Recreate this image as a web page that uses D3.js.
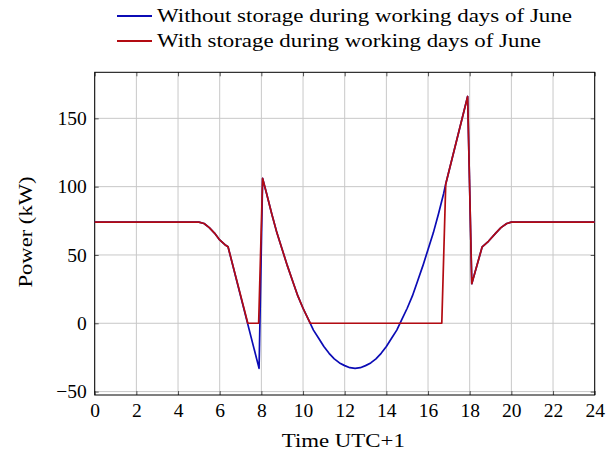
<!DOCTYPE html>
<html>
<head>
<meta charset="utf-8">
<script src="https://cdn.jsdelivr.net/npm/d3@7"></script>
<style>
  body { margin: 0; background: #fff; }
  svg { display: block; }
  text { font-family: "Liberation Serif", "DejaVu Serif", serif; fill: #000; }
</style>
</head>
<body>
<script>
// Data (hour of day, kW)
const hoursWithout = [0, 5, 5.25, 5.5, 5.75, 6, 6.25, 6.4, 7.89, 8.06, 8.25, 8.5, 8.75, 9, 9.25, 9.5, 9.75, 10,
  10.25, 10.5, 10.75, 11, 11.25, 11.5, 11.75, 12, 12.25, 12.5, 12.75, 13, 13.25, 13.5, 13.75, 14, 14.25,
  14.5, 14.75, 15, 15.25, 15.5, 15.75, 16, 16.25, 16.5, 16.75, 16.85, 17.9, 18.1, 18.6, 18.9, 19.25, 19.5,
  19.78, 20, 24];
const powerWithout = [74, 74, 73, 70, 66, 61, 57.5, 56, -33, 106, 95, 80, 66, 54, 42, 31, 20, 11,
  3, -5, -11, -17, -22, -26, -29, -31, -32.5, -33, -32.5, -31, -29, -26, -22, -17, -11,
  -5, 3, 11, 20, 31, 42, 54, 66, 80, 95, 102, 166, 29, 56, 60, 66, 70,
  73, 74, 74];

const hoursWith = [0, 5, 5.25, 5.5, 5.75, 6, 6.25, 6.4, 7.35, 7.87, 8.06, 8.25, 8.5, 8.75, 9, 9.25, 9.5, 9.75, 10,
  10.25, 10.35, 16.66, 16.85, 17.9, 18.1, 18.6, 18.9, 19.25, 19.5, 19.78, 20, 24];
const powerWith = [74, 74, 73, 70, 66, 61, 57.5, 56, 0, 0, 106, 95, 80, 66, 54, 42, 31, 20, 11,
  3, 0, 0, 102, 166, 29, 56, 60, 66, 70, 73, 74, 74];

const xTicks = [0, 2, 4, 6, 8, 10, 12, 14, 16, 18, 20, 22, 24];
const yTicks = [-50, 0, 50, 100, 150];

const seriesNames = ["Without storage during working days of June", "With storage during working days of June"];
const seriesColors = ["#0b0bb5", "#b30b12"];
const legendWidths = [415, 384];

const W = 616, H = 452;
const margin = {top: 72.3, right: 21.3, bottom: 57, left: 94.7};
const width = W - margin.left - margin.right,
      height = H - margin.top - margin.bottom;

const svg = d3.select("body").append("svg")
  .attr("width", W)
  .attr("height", H);

const g = svg.append("g")
  .attr("transform", "translate(" + margin.left + "," + margin.top + ")");

const x = d3.scaleLinear().domain([0, 24]).range([0, width]);
const y = d3.scaleLinear().domain([-52.5, 183.7]).range([height, 0]);

// grid
g.append("g").selectAll("line.vg")
  .data(xTicks).enter().append("line")
  .attr("x1", d => x(d)).attr("x2", d => x(d))
  .attr("y1", 0).attr("y2", height)
  .attr("stroke", "#c8c8c8").attr("stroke-width", 1);
g.append("g").selectAll("line.hg")
  .data(yTicks).enter().append("line")
  .attr("x1", 0).attr("x2", width)
  .attr("y1", d => y(d)).attr("y2", d => y(d))
  .attr("stroke", "#c8c8c8").attr("stroke-width", 1);

// axes (ticks pointing inward, on all four sides)
const tickFmt = d => d < 0 ? "\u2212" + Math.abs(d) : d;
g.append("g")
  .attr("transform", "translate(0," + height + ")")
  .call(d3.axisBottom(x).tickValues(xTicks).tickSize(-4).tickPadding(8).tickFormat(tickFmt));
g.append("g")
  .call(d3.axisLeft(y).tickValues(yTicks).tickSize(-4).tickPadding(8).tickFormat(tickFmt));
g.append("g")
  .call(d3.axisTop(x).tickValues(xTicks).tickSize(-4).tickFormat(""));
g.append("g")
  .attr("transform", "translate(" + width + ",0)")
  .call(d3.axisRight(y).tickValues(yTicks).tickSize(-4).tickFormat(""));

g.selectAll(".domain").remove();
g.selectAll(".tick line").attr("stroke", "#555");
g.selectAll(".tick text").style("font-size", "19.5px")
  .style("font-family", "'Liberation Serif', serif");

g.append("rect")
  .attr("width", width).attr("height", height)
  .attr("fill", "none").attr("stroke", "#000").attr("stroke-width", 1);

// lines
const line = d3.line().x(d => x(d[0])).y(d => y(d[1]));
const seriesData = [
  d3.zip(hoursWithout, powerWithout),
  d3.zip(hoursWith, powerWith)
];
g.selectAll("path.series")
  .data(seriesData).enter().append("path")
  .attr("class", "series")
  .attr("d", line)
  .attr("fill", "none")
  .attr("stroke", (d, i) => seriesColors[i])
  .attr("stroke-width", 1.7)
  .attr("stroke-linejoin", "round");

// axis labels
svg.append("text")
  .attr("x", 343.3).attr("y", 446.5)
  .attr("text-anchor", "middle")
  .attr("textLength", 123).attr("lengthAdjust", "spacingAndGlyphs")
  .style("font-size", "19.5px")
  .text("Time UTC+1");
svg.append("text")
  .attr("transform", "translate(32,232) rotate(-90)")
  .attr("text-anchor", "middle")
  .attr("textLength", 111).attr("lengthAdjust", "spacingAndGlyphs")
  .style("font-size", "19.5px")
  .text("Power (kW)");

// legend
const legend = svg.append("g");
seriesNames.forEach((name, i) => {
  const ly = 16 + i * 25;
  legend.append("line")
    .attr("x1", 117).attr("x2", 152)
    .attr("y1", ly).attr("y2", ly)
    .attr("stroke", seriesColors[i]).attr("stroke-width", 1.8);
  legend.append("text")
    .attr("x", 157).attr("y", ly + 6)
    .attr("textLength", legendWidths[i]).attr("lengthAdjust", "spacingAndGlyphs")
    .style("font-size", "19.5px")
    .text(name);
});
</script>
</body>
</html>
